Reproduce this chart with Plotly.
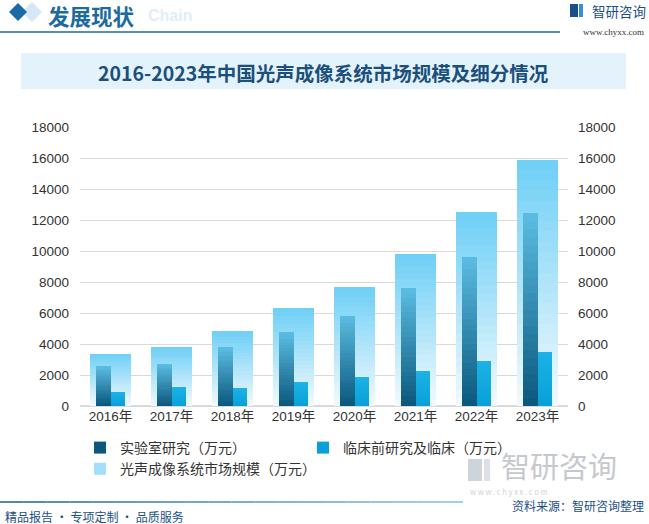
import plotly.graph_objects as go

# ---------------- data ----------------
years = ["2016年", "2017年", "2018年", "2019年", "2020年", "2021年", "2022年", "2023年"]
market_total = [3370, 3830, 4860, 6330, 7700, 9800, 12500, 15900]
lab_research = [2550, 2710, 3780, 4750, 5830, 7630, 9620, 12450]
clinical = [900, 1200, 1140, 1580, 1850, 2230, 2880, 3510]
y_ticks = [0, 2000, 4000, 6000, 8000, 10000, 12000, 14000, 16000, 18000]
y_tick_text = [str(v) for v in y_ticks]

name_lab = "实验室研究（万元）"
name_clin = "临床前研究及临床（万元）"
name_total = "光声成像系统市场规模（万元）"

W, H = 649, 524
L, R, T, B = 80, 81, 127, 118
PW, PH = W - L - R, H - T - B

FONT = "Liberation Sans, Noto Sans CJK SC, sans-serif"
CJK = "Noto Sans CJK SC, sans-serif"


def px(x):
    return (x - L) / PW


def py(y):
    return (H - B - y) / PH


def hex2rgb(h):
    h = h.lstrip("#")
    return tuple(int(h[i:i + 2], 16) for i in (0, 2, 4))


def mix(c1, c2, t):
    a, b = hex2rgb(c1), hex2rgb(c2)
    return "rgb(%d,%d,%d)" % tuple(round(a[i] + (b[i] - a[i]) * t) for i in range(3))


fig = go.Figure()
N = 24


def gradient_bars(values, bottom, top, width, offset, yaxis, name, legend_k, rank):
    for k in range(N):
        t = (k + 0.5) / N
        fig.add_trace(go.Bar(
            x=years,
            y=[v / N for v in values],
            base=[v * k / N for v in values],
            width=width,
            offset=offset,
            marker=dict(color=mix(bottom, top, t), line=dict(width=0)),
            name=name,
            showlegend=(k == legend_k),
            legendrank=rank,
            yaxis=yaxis,
            hoverinfo="skip",
        ))


# background total bars (light gradient)
gradient_bars(market_total, "#f2fafe", "#6dcff6", 0.66, -0.33, "y", name_total, 14, 3)
# lab research (dark teal gradient)
gradient_bars(lab_research, "#0a577d", "#5cbde2", 0.245, -0.245, "y2", name_lab, 0, 1)
# clinical (bright blue)
gradient_bars(clinical, "#07a0d8", "#1cb2e6", 0.245, 0.0, "y2", name_clin, 0, 2)

shapes = []
annotations = []


def diamond(cx, cy, r, color):
    return dict(type="path", xref="paper", yref="paper",
                path="M %f %f L %f %f L %f %f L %f %f Z" % (
                    px(cx), py(cy - r), px(cx + r), py(cy), px(cx), py(cy + r), px(cx - r), py(cy)),
                fillcolor=color, line=dict(width=0), layer="above")


def rect(x0, x1, y0, y1, color, layer="above"):
    shapes.append(dict(type="rect", xref="paper", yref="paper", x0=px(x0), x1=px(x1), y0=py(y1), y1=py(y0),
                       fillcolor=color, line=dict(width=0), layer=layer))


shapes.append(diamond(32, 12, 10, "#d5e8f5"))
shapes.append(diamond(18, 12, 9, "#1a6aa5"))

# header line
shapes.append(dict(type="line", xref="paper", yref="paper", x0=px(0), x1=px(560), y0=py(32), y1=py(32),
                   line=dict(color="#1f6a9e", width=1.5)))
# title box
rect(21, 626, 53, 89, "#e4f3fb", layer="below")

# top-right logo icon
rect(570, 578, 4, 17, "#1b4f86")
rect(579, 583, 4, 17, "#3a8fd0")

# footer gradient line
segs = 20
for i in range(segs):
    x0 = 463 * i / segs
    x1 = 463 * (i + 1) / segs
    shapes.append(dict(type="line", xref="paper", yref="paper", x0=px(x0), x1=px(x1), y0=py(502), y1=py(502),
                       line=dict(color=mix("#1a5f95", "#8cc4e8", i / segs), width=1.5)))

# bottom right logo watermark icon
rect(468, 482, 459, 481, "#cdd4db", layer="below")
rect(484, 490, 459, 481, "#dbe1e6", layer="below")


def ann(text, x, y, size, color, xanchor="left", bold=False, family=CJK, yanchor="middle"):
    annotations.append(dict(text=("<b>%s</b>" % text) if bold else text, xref="paper", yref="paper",
                            x=px(x), y=py(y), xanchor=xanchor, yanchor=yanchor, showarrow=False,
                            font=dict(size=size, color=color, family=family)))


ann("Chain", 146, 15, 16, "#e0eef8", bold=True, family="Liberation Sans, sans-serif")
ann("发展现状", 46, 15, 21.5, "#1c6aa0", bold=True)
ann("智研咨询", 590, 11, 13.5, "#1b4f86")
ann("www.chyxx.com", 646, 32, 9, "#333333", xanchor="right", family="Liberation Serif, serif")
ann("2016-2023年中国光声成像系统市场规模及细分情况", 323, 72, 19.5, "#1b4f7c", xanchor="center", bold=True)
ann("智研咨询", 499, 465, 29, "#c5c9cd")
ann("w w w . c h y x x . c o m", 468, 491.5, 7.5, "#d2d2d2")
ann("资料来源：智研咨询整理", 646, 505.5, 12, "#1b4f86", xanchor="right")
ann("精品报告 · 专项定制 · 品质服务", 3, 516, 12, "#1b4f86")

fig.update_layout(
    width=W, height=H,
    margin=dict(l=L, r=R, t=T, b=B, pad=0, autoexpand=False),
    paper_bgcolor="white", plot_bgcolor="white",
    barmode="overlay",
    bargap=0,
    font=dict(family=FONT, size=12, color="#333333"),
    showlegend=True,
    legend=dict(orientation="h", x=px(80), y=py(432), xanchor="left", yanchor="top",
                entrywidth=178, entrywidthmode="pixels", traceorder="normal",
                font=dict(size=14, color="#333333", family=CJK), itemclick=False,
                tracegroupgap=0, bgcolor="rgba(0,0,0,0)"),
    xaxis=dict(type="category", showgrid=False, showline=False, ticks="",
               tickfont=dict(size=13.5, color="#333333", family=FONT), fixedrange=True),
    yaxis=dict(range=[0, 18000], tickvals=y_ticks, ticktext=y_tick_text, showgrid=True,
               gridcolor="#d9d9d9", gridwidth=1,
               zeroline=True, zerolinecolor="#d9d9d9", showline=False, ticks="",
               tickfont=dict(size=13.5, color="#333333"), ticklabelstandoff=10, fixedrange=True),
    yaxis2=dict(range=[0, 18000], tickvals=y_ticks, ticktext=y_tick_text, overlaying="y", side="right",
                showgrid=False, zeroline=False, showline=False, ticks="",
                tickfont=dict(size=13.5, color="#333333"), ticklabelstandoff=9, fixedrange=True),
    shapes=shapes,
    annotations=annotations,
)

fig.write_html("out.html", config={"displayModeBar": False, "staticPlot": True},
               post_script="document.body.style.margin='0';document.body.style.overflow='hidden';")
